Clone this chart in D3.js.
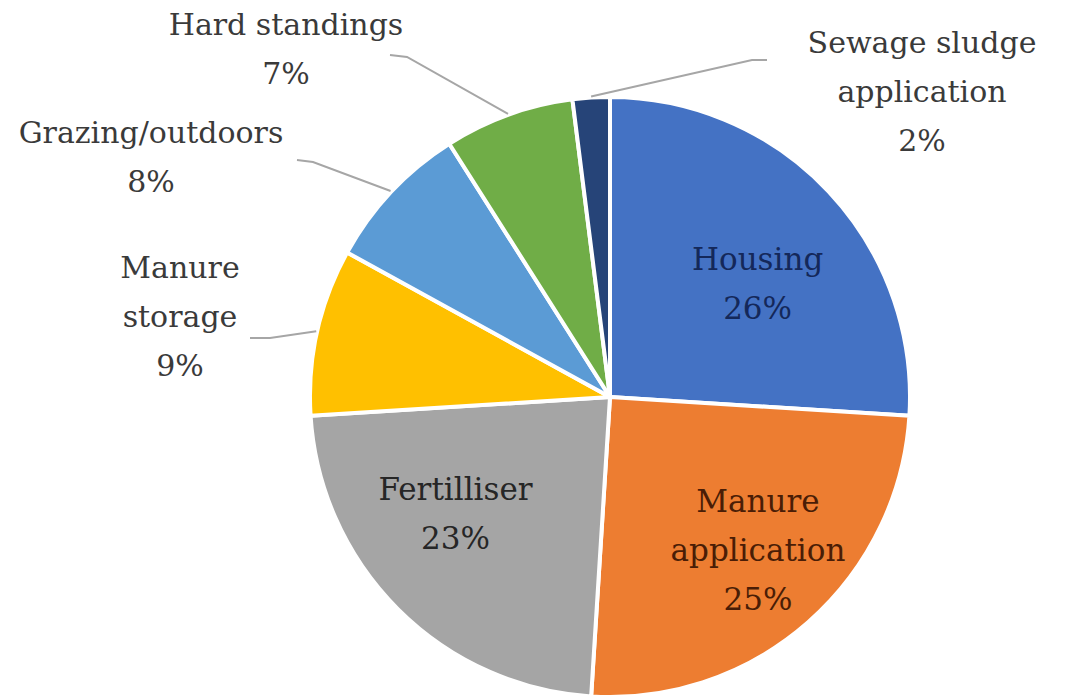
<!DOCTYPE html>
<html>
<head>
<meta charset="utf-8">
<script src="https://cdn.jsdelivr.net/npm/d3@7"></script>
<style>
  html, body { margin: 0; padding: 0; background: #ffffff; }
  svg { display: block; }
</style>
</head>
<body>
<svg id="chart" width="1066" height="699"></svg>
<script>
// Sources of ammonia emissions (share of total, %)
const categories = [
  "Housing",
  "Manure application",
  "Fertilliser",
  "Manure storage",
  "Grazing/outdoors",
  "Hard standings",
  "Sewage sludge application"
];
const shares = [26, 25, 23, 9, 8, 7, 2];
const colors = ["#4472C4", "#ED7D31", "#A5A5A5", "#FFC000", "#5B9BD5", "#70AD47", "#264478"];

// Label line breaks
const labelLines = [
  ["Housing"],
  ["Manure", "application"],
  ["Fertilliser"],
  ["Manure", "storage"],
  ["Grazing/outdoors"],
  ["Hard standings"],
  ["Sewage sludge", "application"]
];

const width = 1066, height = 699;
const cx = 610, cy = 397, radius = 300;
const lineH = 49;

const svg = d3.select("#chart");
const g = svg.append("g").attr("transform", `translate(${cx},${cy})`);

const pie = d3.pie().sort(null).value(d => d).startAngle(0).endAngle(2 * Math.PI);
const arcs = pie(shares);
const arc = d3.arc().innerRadius(0).outerRadius(radius);

g.selectAll("path.slice")
  .data(arcs)
  .join("path")
  .attr("class", "slice")
  .attr("d", arc)
  .attr("fill", (d, i) => colors[i])
  .attr("stroke", "#ffffff")
  .attr("stroke-width", 4)
  .attr("stroke-linejoin", "round");

// Label placement: inside labels sit near the slice centroid, outside labels carry a leader line
const placement = [
  { inside: true, r: 0.62, dx: 12, dy: 14, color: "#14285a" },
  { inside: true, r: 0.62, dx: 25, dy: 13, color: "#4a1d06" },
  { inside: true, r: 0.62, dx: -23, dy: -15, color: "#262626" },
  { inside: false, x: 180, y: 278, lead: [[250, 338], [270, 338]] },
  { inside: false, x: 151, y: 143, lead: [[297, 160], [313, 162]] },
  { inside: false, x: 286, y: 35, lead: [[390, 55], [407, 57]] },
  { inside: false, x: 922, y: 53, lead: [[767, 60], [752, 60]] }
];

const fontFamily = "'DejaVu Serif', 'Liberation Serif', serif";

arcs.forEach((d, i) => {
  const p = placement[i];
  const lines = labelLines[i].concat([shares[i] + "%"]);
  const mid = (d.startAngle + d.endAngle) / 2;
  if (p.inside) {
    const rr = radius * p.r;
    const bx = rr * Math.sin(mid) + p.dx;
    const by = -rr * Math.cos(mid) + p.dy;
    const top = by - (lines.length - 1) * lineH / 2 + 11;
    const t = g.append("text")
      .attr("text-anchor", "middle")
      .attr("font-family", fontFamily)
      .attr("font-size", 31)
      .attr("fill", p.color);
    lines.forEach((s, k) => {
      t.append("tspan").attr("x", bx).attr("y", top + k * lineH).text(s);
    });
  } else {
    // leader line from label to the rim of the slice
    const ex = (radius + 1) * Math.sin(mid) + cx;
    const ey = -(radius + 1) * Math.cos(mid) + cy;
    const pts = p.lead.concat([[ex, ey]]);
    svg.append("path")
      .attr("d", d3.line()(pts))
      .attr("fill", "none")
      .attr("stroke", "#a6a6a6")
      .attr("stroke-width", 2);
    const t = svg.append("text")
      .attr("text-anchor", "middle")
      .attr("font-family", fontFamily)
      .attr("font-size", 30)
      .attr("fill", "#3a3a3a");
    lines.forEach((s, k) => {
      t.append("tspan").attr("x", p.x).attr("y", p.y + k * lineH).text(s);
    });
  }
});
</script>
</body>
</html>
